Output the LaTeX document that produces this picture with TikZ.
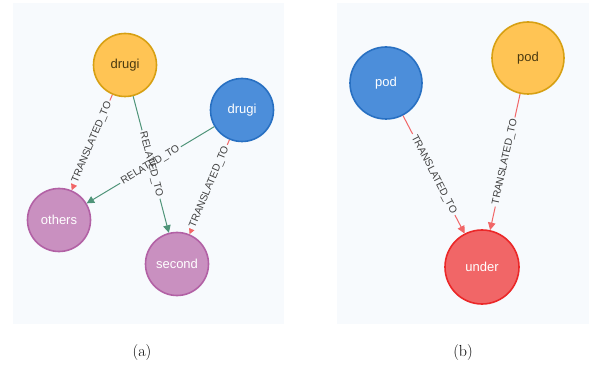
\documentclass[tikz,border=0pt]{standalone}
\usepackage{fontspec}
\newfontfamily\graphfont{Liberation Sans}
\usetikzlibrary{arrows.meta}

\definecolor{panelbg}{HTML}{F7FAFD}
\definecolor{yelfill}{HTML}{FFC454}
\definecolor{yelline}{HTML}{D7A013}
\definecolor{yeltext}{HTML}{4A3A10}
\definecolor{bluefill}{HTML}{4C8EDA}
\definecolor{blueline}{HTML}{2870C2}
\definecolor{purfill}{HTML}{C990C0}
\definecolor{purline}{HTML}{B261A5}
\definecolor{redfill}{HTML}{F16667}
\definecolor{redline}{HTML}{EB2728}
\definecolor{transcol}{HTML}{F16667}
\definecolor{relcol}{HTML}{4F9479}

\tikzset{
  word/.style={circle, inner sep=0pt, line width=1.6pt, minimum size=63pt,
    font=\graphfont\fontsize{13}{15}\selectfont, text=white},
  yelword/.style={word, fill=yelfill, draw=yelline, text=yeltext},
  blueword/.style={word, fill=bluefill, draw=blueline},
  purword/.style={word, fill=purfill, draw=purline},
  redword/.style={word, fill=redfill, draw=redline},
  transedge/.style={draw=transcol, line width=1pt, -{Triangle[length=7.5pt,width=7.5pt]}},
  reledge/.style={draw=relcol, line width=1pt, -{Triangle[length=7.5pt,width=7.5pt]}},
  relmask/.style={midway, sloped, fill=panelbg, inner sep=2pt,
    font=\graphfont\fontsize{10.3}{12}\selectfont},
  rellabel/.style={midway, sloped, inner sep=2pt,
    font=\graphfont\fontsize{10.3}{12}\selectfont, text=black!75}
}

\begin{document}
\begin{tikzpicture}[x=1pt, y=-1pt]
  \useasboundingbox (0,0) rectangle (589,374);

  % panels
  \fill[panelbg] (13,3) rectangle (284,324);
  \fill[panelbg] (337,3) rectangle (589,324);

  % (a)
  \node[yelword] (ydrugi) at (125,65) {drugi};
  \node[blueword] (bdrugi) at (242,110) {drugi};
  \node[purword] (others) at (59,220) {others};
  \node[purword] (second) at (177,264) {second};

  % (b)
  \node[blueword, minimum size=72pt] (bpod) at (386,83) {pod};
  \node[yelword, minimum size=72pt] (ypod) at (528,58) {pod};
  \node[redword, minimum size=74pt] (under) at (482,267) {under};

  % edges with gaps
  \path[transedge] (ydrugi) -- node[relmask] {\phantom{TRANSLATED\_TO}} (others);
  \path[reledge] (ydrugi) -- node[relmask] {\phantom{RELATED\_TO}} (second);
  \path[reledge] (bdrugi) -- node[relmask] {\phantom{RELATED\_TO}} (others);
  \path[transedge] (bdrugi) -- node[relmask] {\phantom{TRANSLATED\_TO}} (second);
  \path[transedge] (bpod) -- node[relmask] {\phantom{TRANSLATED\_TO}} (under);
  \path[transedge] (ypod) -- node[relmask] {\phantom{TRANSLATED\_TO}} (under);

  % edge texts on top
  \path (ydrugi) -- node[rellabel] {TRANSLATED\_TO} (others);
  \path (ydrugi) -- node[rellabel] {RELATED\_TO} (second);
  \path (bdrugi) -- node[rellabel] {RELATED\_TO} (others);
  \path (bdrugi) -- node[rellabel] {TRANSLATED\_TO} (second);
  \path (bpod) -- node[rellabel] {TRANSLATED\_TO} (under);
  \path (ypod) -- node[rellabel] {TRANSLATED\_TO} (under);

  % captions
  \node[font=\fontsize{16}{18}\selectfont] (capa) at (142,353) {(a)};
  \node[font=\fontsize{16}{18}\selectfont] (capb) at (463,353) {(b)};
\end{tikzpicture}
\end{document}
